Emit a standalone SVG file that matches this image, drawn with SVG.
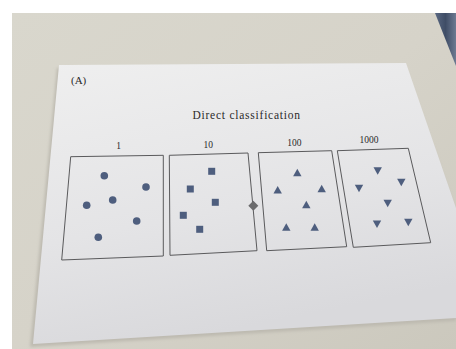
<svg xmlns="http://www.w3.org/2000/svg" width="456" height="349" viewBox="0 0 456 349">
  <defs>
    <linearGradient id="desk" x1="0" y1="0" x2="1" y2="1">
      <stop offset="0" stop-color="#d9d7cd"/>
      <stop offset="0.5" stop-color="#d6d3c9"/>
      <stop offset="1" stop-color="#cbc8bd"/>
    </linearGradient>
    <linearGradient id="paper" x1="0" y1="0" x2="0.3" y2="1">
      <stop offset="0" stop-color="#efefef"/>
      <stop offset="0.6" stop-color="#e4e4e6"/>
      <stop offset="1" stop-color="#d9d9dc"/>
    </linearGradient>
    <linearGradient id="tray" x1="0" y1="0" x2="1" y2="0">
      <stop offset="0" stop-color="#5a6882"/>
      <stop offset="0.5" stop-color="#3f4d66"/>
      <stop offset="1" stop-color="#6d7a92"/>
    </linearGradient>
    <filter id="soft" x="-5%" y="-5%" width="110%" height="110%">
      <feGaussianBlur stdDeviation="1.5"/>
    </filter>
    <style>
      .frame { fill: none; stroke: #5a5a5c; stroke-width: 1; }
      .mark { fill: #4e5e7e; }
      .label { font-family: "Liberation Serif", "Times New Roman", serif; fill: #2a2a2a; }
      .num { font-size: 9.5px; text-anchor: middle; }
    </style>
  </defs>

  <!-- white border round the photo -->
  <rect x="0" y="0" width="456" height="349" fill="#ffffff"/>
  <!-- desk surface -->
  <rect x="12" y="13" width="444" height="336" fill="url(#desk)"/>
  <!-- dark object in the upper right corner -->
  <polygon points="435,13 456,13 456,66" fill="url(#tray)"/>

  <!-- sheet shadow and sheet -->
  <polygon points="57,68 404,66 456,212 456,321 30,347" fill="#bdbab0" filter="url(#soft)"/>
  <polygon points="59,65 406,63 456,208 456,318 33,344" fill="url(#paper)"/>

  <text class="label" x="71" y="84" font-size="11">(A)</text>
  <text class="label" x="192.5" y="118.5" font-size="11.5" textLength="107.5">Direct classification</text>

  <!-- panel 1: circles -->
  <g id="panel-1">
    <text class="label num" x="118.5" y="149">1</text>
    <polygon class="frame" points="70.7,156.7 163.3,155.3 163.3,256 61.7,260"/>
    <circle class="mark" cx="104.3" cy="175.7" r="3.8"/>
    <circle class="mark" cx="146" cy="187" r="3.8"/>
    <circle class="mark" cx="86.7" cy="205.3" r="3.8"/>
    <circle class="mark" cx="112.7" cy="200" r="3.8"/>
    <circle class="mark" cx="136.7" cy="221" r="3.8"/>
    <circle class="mark" cx="98.3" cy="237.3" r="3.8"/>
  </g>

  <!-- panel 10: squares -->
  <g id="panel-10">
    <text class="label num" x="208.3" y="147.5">10</text>
    <polygon class="frame" points="169.3,155.3 248,153 257,250.7 170,255.3"/>
    <rect class="mark" x="208.2" y="167.8" width="7" height="7"/>
    <rect class="mark" x="186.8" y="185.5" width="7" height="7"/>
    <rect class="mark" x="211.8" y="198.8" width="7" height="7"/>
    <rect class="mark" x="179.8" y="211.8" width="7" height="7"/>
    <rect class="mark" x="196.2" y="225.8" width="7" height="7"/>
  </g>

  <!-- marker between panels 10 and 100 -->
  <g id="divider-mark">
    <polygon points="253.3,200.8 258.3,205.8 253.3,210.8 248.3,205.8" fill="#6b6b6d"/>
  </g>

  <!-- panel 100: upward triangles -->
  <g id="panel-100">
    <text class="label num" x="294.3" y="145.5">100</text>
    <polygon class="frame" points="258.3,152.7 331.7,150.7 346.7,246.7 266.7,250.7"/>
    <polygon class="mark" points="297.3,168.7 301.5,176.2 293.1,176.2"/>
    <polygon class="mark" points="277.7,186 281.9,193.5 273.5,193.5"/>
    <polygon class="mark" points="321.7,184.7 325.9,192.2 317.5,192.2"/>
    <polygon class="mark" points="306.3,200.7 310.5,208.2 302.1,208.2"/>
    <polygon class="mark" points="286.3,223.3 290.5,230.8 282.1,230.8"/>
    <polygon class="mark" points="314.7,223.3 318.9,230.8 310.5,230.8"/>
  </g>

  <!-- panel 1000: downward triangles -->
  <g id="panel-1000">
    <text class="label num" x="369" y="143">1000</text>
    <polygon class="frame" points="337.3,150.7 408.3,148.3 430.7,242.7 353.3,247.3"/>
    <polygon class="mark" points="373.5,167.2 381.9,167.2 377.7,174.7"/>
    <polygon class="mark" points="397.1,178.8 405.5,178.8 401.3,186.3"/>
    <polygon class="mark" points="354.8,184.8 363.2,184.8 359,192.3"/>
    <polygon class="mark" points="383.5,199.8 391.9,199.8 387.7,207.3"/>
    <polygon class="mark" points="372.8,220.5 381.2,220.5 377,228"/>
    <polygon class="mark" points="404.1,218.8 412.5,218.8 408.3,226.3"/>
  </g>
</svg>
